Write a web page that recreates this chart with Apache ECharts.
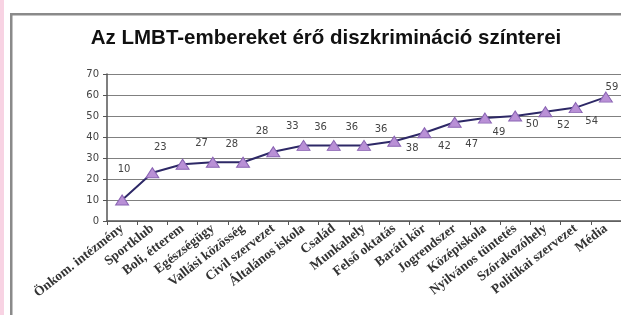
<!DOCTYPE html>
<html lang="hu">

<head>
    <meta charset="UTF-8">
    <title>LMBT diszkrimináció</title>
    <style>
        html, body {
            margin: 0;
            padding: 0;
            background: #fff;
        }

        #chart {
            width: 621px;
            height: 315px;
        }
    </style>
</head>

<body>
    <div id="chart"></div>
</body>
<script type="text/javascript" src="https://cdn.jsdelivr.net/npm/echarts@6/dist/echarts.min.js"></script>
<script type="text/javascript">
    // kategóriák és értékek
    var categories = ['Önkom. intézmény', 'Sportklub', 'Boli, étterem', 'Egészségügy', 'Vallási közösség',
        'Civil szervezet', 'Általános iskola', 'Család', 'Munkahely', 'Felső oktatás', 'Baráti kör',
        'Jogrendszer', 'Középiskola', 'Nyilvános tüntetés', 'Szórakozóhely', 'Politikai szervezet', 'Média'];
    var values = [10, 23, 27, 28, 28, 33, 36, 36, 36, 38, 42, 47, 49, 50, 52, 54, 59];
    var yTicks = [0, 10, 20, 30, 40, 50, 60, 70];

    // a feliratok eltolása (az eredeti ábrán szórtan állnak)
    var labelOffsets = [[2, -31], [8, -25], [19, -21], [19, -18], [19, -31], [19, -25], [17, -18], [18, -18],
        [17, -16], [18, 7], [20, 14], [17, 22], [14, 14], [17, 8], [18, 14], [16, 14], [6, -10]];

    var seriesData = values.map(function (v, i) {
        return {
            value: v,
            label: { offset: labelOffsets[i] }
        };
    });

    var option = {
        animation: false,
        title: {
            text: 'Az LMBT-embereket érő diszkrimináció színterei',
            left: 321,
            top: 23,
            textAlign: 'center',
            textStyle: {
                fontFamily: 'Liberation Sans',
                fontWeight: 'bold',
                fontSize: 20.5,
                color: '#111'
            }
        },
        graphic: [
            { type: 'rect', shape: { x: 0, y: 0, width: 4, height: 315 }, style: { fill: '#f8d3e3' } },
            { type: 'rect', shape: { x: 10, y: 13, width: 2.5, height: 302 }, style: { fill: '#8a8a8a' } },
            { type: 'rect', shape: { x: 10, y: 13, width: 611, height: 2.5 }, style: { fill: '#8a8a8a' } }
        ],
        grid: {
            left: 107,
            right: -1,
            top: 74,
            bottom: 94
        },
        xAxis: {
            type: 'category',
            data: categories,
            boundaryGap: true,
            axisLine: { lineStyle: { color: '#555', width: 1.5 } },
            axisTick: { show: true, length: 4, lineStyle: { color: '#555' } },
            axisLabel: {
                rotate: 38,
                interval: 0,
                margin: 6,
                fontFamily: 'Liberation Serif',
                fontWeight: 'bold',
                fontSize: 13.5,
                color: '#333'
            }
        },
        yAxis: {
            type: 'value',
            min: yTicks[0],
            max: yTicks[yTicks.length - 1],
            interval: 10,
            axisLine: { show: true, lineStyle: { color: '#555', width: 1.5 } },
            axisTick: { show: true, length: 4, lineStyle: { color: '#555' } },
            axisLabel: {
                margin: 8,
                fontFamily: 'DejaVu Sans',
                fontSize: 10,
                color: '#444'
            },
            splitLine: { lineStyle: { color: '#808080', width: 1.2 } }
        },
        series: [{
            type: 'line',
            data: seriesData,
            symbol: 'triangle',
            symbolSize: [13, 10],
            lineStyle: { color: '#2d2866', width: 2 },
            itemStyle: { color: '#b990d6', borderColor: '#8a64b4', borderWidth: 1 },
            label: {
                show: true,
                position: 'inside',
                fontFamily: 'DejaVu Sans',
                fontSize: 10,
                color: '#444'
            }
        }]
    };

    //初始化echarts实例
    var myChart = echarts.init(document.getElementById('chart'));
    myChart.setOption(option);
    window.onresize = function () {
        myChart.resize();
    };
</script>

</html>
